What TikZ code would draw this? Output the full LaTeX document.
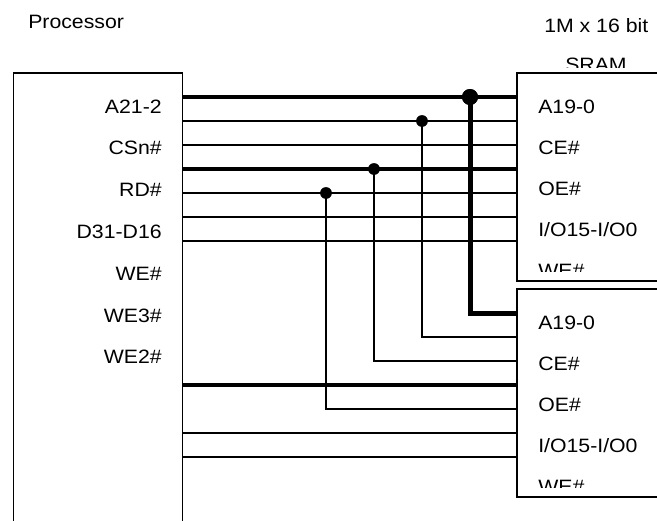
\documentclass[tikz,border=0pt]{standalone}
\usepackage{fontspec}
\setmainfont{Liberation Sans}[FakeStretch=1.1]
\begin{document}
\begin{tikzpicture}[x=0.75pt,y=-0.75pt,
  chip/.style={draw,line width=1pt,rectangle,inner sep=0pt},
  wire/.style={line width=0.8pt},
  busA/.style={line width=3.5pt},
  busB/.style={line width=2.5pt},
  bigdot/.style={circle,fill,inner sep=0pt,minimum size=12pt},
  smalldot/.style={circle,fill,inner sep=0pt,minimum size=8.6pt},
  lbl/.style={inner sep=0pt,font=\fontsize{14.5}{17}\selectfont}]
\useasboundingbox (0,0) rectangle (657,521);
\clip (0,0) rectangle (657,521);
% boxes
\node[chip,minimum width=127.05pt,minimum height=365.25pt] (proc) at (98,316.5) {};
\node[chip,minimum width=182.25pt,minimum height=156pt] (sramA) at (638.5,177) {};
\node[chip,minimum width=182.25pt,minimum height=156pt] (sramB) at (638.5,393) {};
% titles
\node[lbl,anchor=base west] (tproc) at (28,28) {Processor};
\node[lbl,anchor=base west] (tsize) at (544,32) {1M x 16 bit};
\begin{scope}
\clip (540,40) rectangle (657,67);
\node[lbl,anchor=base west] (tsram) at (565,71) {SRAM};
\end{scope}
% processor labels
\foreach \t [count=\k from 0] in {A21-2,CSn\#,RD\#,D31-D16,WE\#,WE3\#,WE2\#}
  \node[lbl,anchor=base east] (pl\k) at (162,113+41.8*\k) {\t};
% SRAM labels
\foreach \b/\top in {A/0,B/216}{
  \foreach \t [count=\k from 0] in {A19-0,CE\#,OE\#,I/O15-I/O0}
    \node[lbl,anchor=base west] (sl\b\k) at (538,113+\top+41*\k) {\t};
  \begin{scope}
  \clip (520,\top+250) rectangle (657,\top+271);
  \node[lbl,anchor=base west] (slw\b) at (538,\top+277) {WE\#};
  \end{scope}
}
% pin coordinates
\foreach \i in {0,...,6}{
  \coordinate (pa\i) at (182.7,97+24*\i);
  \coordinate (sa\i) at (517,97+24*\i);
  \coordinate (pb\i) at (182.7,313+24*\i);
  \coordinate (sb\i) at (517,313+24*\i);
}
% junction dots
\node[bigdot] (j0) at (470,97) {};
\node[smalldot] (j1) at (422,121) {};
\node[smalldot] (j3) at (374,169) {};
\node[smalldot] (j4) at (326,193) {};
% top wires
\draw[busA] (pa0) -- (sa0);
\draw[wire] (pa1) -- (sa1);
\draw[wire] (pa2) -- (sa2);
\draw[busB] (pa3) -- (sa3);
\draw[wire] (pa4) -- (sa4);
\draw[wire] (pa5) -- (sa5);
\draw[wire] (pa6) -- (sa6);
% branches to second SRAM
\draw[busA,line width=3.75pt] (j0.center) |- (sb0);
\draw[wire] (j1.center) |- (sb1);
\draw[wire] (j3.center) |- (sb2);
\draw[wire] (j4.center) |- (sb4);
% bottom wires
\draw[busB] (pb3) -- (sb3);
\draw[wire] (pb5) -- (sb5);
\draw[wire] (pb6) -- (sb6);
% redraw dots on top
\node[bigdot] at (j0) {};
\node[smalldot] at (j1) {};
\node[smalldot] at (j3) {};
\node[smalldot] at (j4) {};
\end{tikzpicture}
\end{document}
